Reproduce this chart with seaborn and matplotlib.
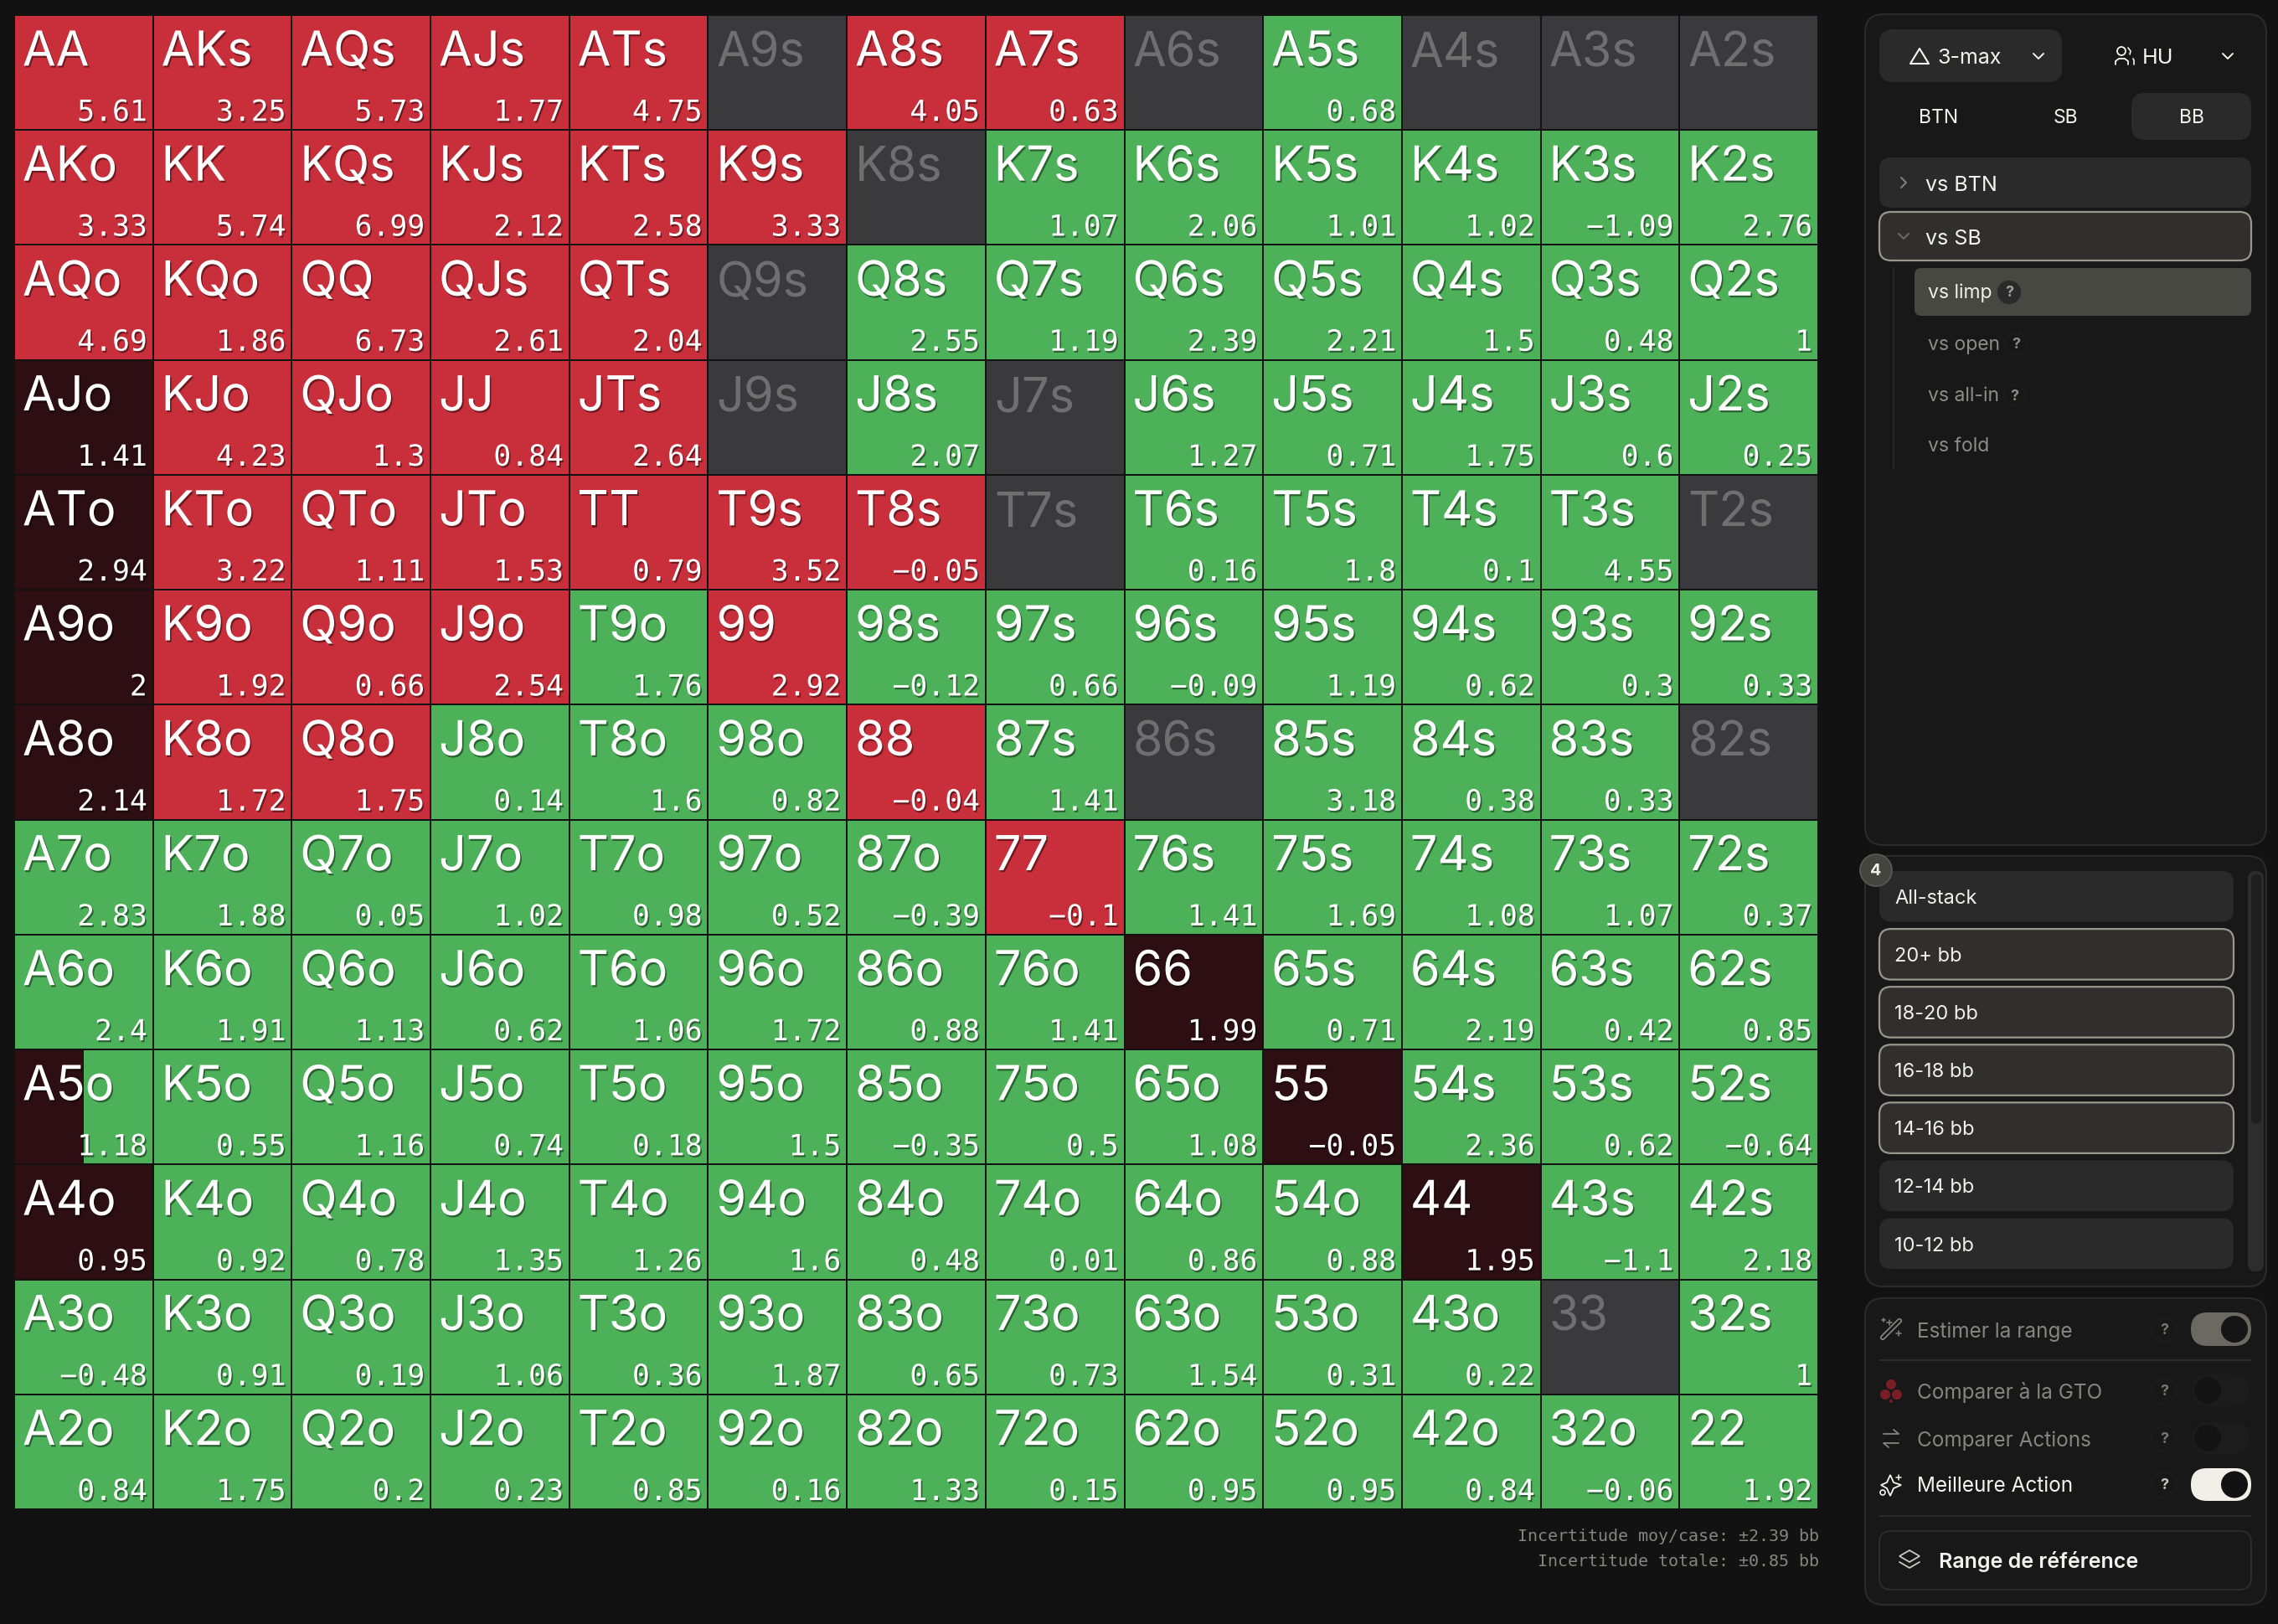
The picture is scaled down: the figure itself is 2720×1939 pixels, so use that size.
import numpy as np
import matplotlib
matplotlib.use('Agg')
import matplotlib.pyplot as plt
import matplotlib.patheffects as pe
from matplotlib.colors import ListedColormap
from matplotlib.patches import FancyBboxPatch, Rectangle, Circle, Polygon
import seaborn as sns

# hand grid
hands = [
    ['AA','AKs','AQs','AJs','ATs','A9s','A8s','A7s','A6s','A5s','A4s','A3s','A2s'],
    ['AKo','KK','KQs','KJs','KTs','K9s','K8s','K7s','K6s','K5s','K4s','K3s','K2s'],
    ['AQo','KQo','QQ','QJs','QTs','Q9s','Q8s','Q7s','Q6s','Q5s','Q4s','Q3s','Q2s'],
    ['AJo','KJo','QJo','JJ','JTs','J9s','J8s','J7s','J6s','J5s','J4s','J3s','J2s'],
    ['ATo','KTo','QTo','JTo','TT','T9s','T8s','T7s','T6s','T5s','T4s','T3s','T2s'],
    ['A9o','K9o','Q9o','J9o','T9o','99','98s','97s','96s','95s','94s','93s','92s'],
    ['A8o','K8o','Q8o','J8o','T8o','98o','88','87s','86s','85s','84s','83s','82s'],
    ['A7o','K7o','Q7o','J7o','T7o','97o','87o','77','76s','75s','74s','73s','72s'],
    ['A6o','K6o','Q6o','J6o','T6o','96o','86o','76o','66','65s','64s','63s','62s'],
    ['A5o','K5o','Q5o','J5o','T5o','95o','85o','75o','65o','55','54s','53s','52s'],
    ['A4o','K4o','Q4o','J4o','T4o','94o','84o','74o','64o','54o','44','43s','42s'],
    ['A3o','K3o','Q3o','J3o','T3o','93o','83o','73o','63o','53o','43o','33','32s'],
    ['A2o','K2o','Q2o','J2o','T2o','92o','82o','72o','62o','52o','42o','32o','22'],
]
# EV per hand, None = no data (grey cell)
ev = [
    [5.61,3.25,5.73,1.77,4.75,None,4.05,0.63,None,0.68,None,None,None],
    [3.33,5.74,6.99,2.12,2.58,3.33,None,1.07,2.06,1.01,1.02,-1.09,2.76],
    [4.69,1.86,6.73,2.61,2.04,None,2.55,1.19,2.39,2.21,1.5,0.48,1],
    [1.41,4.23,1.3,0.84,2.64,None,2.07,None,1.27,0.71,1.75,0.6,0.25],
    [2.94,3.22,1.11,1.53,0.79,3.52,-0.05,None,0.16,1.8,0.1,4.55,None],
    [2,1.92,0.66,2.54,1.76,2.92,-0.12,0.66,-0.09,1.19,0.62,0.3,0.33],
    [2.14,1.72,1.75,0.14,1.6,0.82,-0.04,1.41,None,3.18,0.38,0.33,None],
    [2.83,1.88,0.05,1.02,0.98,0.52,-0.39,-0.1,1.41,1.69,1.08,1.07,0.37],
    [2.4,1.91,1.13,0.62,1.06,1.72,0.88,1.41,1.99,0.71,2.19,0.42,0.85],
    [1.18,0.55,1.16,0.74,0.18,1.5,-0.35,0.5,1.08,-0.05,2.36,0.62,-0.64],
    [0.95,0.92,0.78,1.35,1.26,1.6,0.48,0.01,0.86,0.88,1.95,-1.1,2.18],
    [-0.48,0.91,0.19,1.06,0.36,1.87,0.65,0.73,1.54,0.31,0.22,None,1],
    [0.84,1.75,0.2,0.23,0.85,0.16,1.33,0.15,0.95,0.95,0.84,-0.06,1.92],
]
# best action: 0 grey, 1 red, 2 dark, 3 green
action = [
    [1,1,1,1,1,0,1,1,0,3,0,0,0],
    [1,1,1,1,1,1,0,3,3,3,3,3,3],
    [1,1,1,1,1,0,3,3,3,3,3,3,3],
    [2,1,1,1,1,0,3,0,3,3,3,3,3],
    [2,1,1,1,1,1,1,0,3,3,3,3,0],
    [2,1,1,1,3,1,3,3,3,3,3,3,3],
    [2,1,1,3,3,3,1,3,0,3,3,3,0],
    [3,3,3,3,3,3,3,1,3,3,3,3,3],
    [3,3,3,3,3,3,3,3,2,3,3,3,3],
    [3,3,3,3,3,3,3,3,3,2,3,3,3],
    [2,3,3,3,3,3,3,3,3,3,2,3,3],
    [3,3,3,3,3,3,3,3,3,3,3,0,3],
    [3,3,3,3,3,3,3,3,3,3,3,3,3],
]
mixed_hand = 'A5o'
mixed_share = 0.5

action_colors = ['#3a3a3d', '#c92e3b', '#2d0e12', '#4db15a']
bg = '#121212'
panel = '#181818'
line = '#2b2b2b'
btn = '#2a2a2a'
active = '#302f2d'
border = '#9a988c'
white = '#f4f4ef'
dim = '#8d8d86'

foot = ['Incertitude moy/case: \u00b12.39 bb', 'Incertitude totale: \u00b10.85 bb']
stacks = ['All-stack', '20+ bb', '18-20 bb', '16-18 bb', '14-16 bb', '12-14 bb', '10-12 bb']
stacks_on = [False, True, True, True, True, False, False]
sub_actions = ['vs open', 'vs all-in', 'vs fold']
positions = ['BTN', 'SB', 'BB']
options = ['Estimer la range', 'Comparer \u00e0 la GTO', 'Comparer Actions', 'Meilleure Action']

sns.set_theme(style='dark')
plt.rcParams['font.family'] = ['DejaVu Sans']
W, H = 2720, 1940
fig = plt.figure(figsize=(W/100, H/100), dpi=100, facecolor=bg)

# grid
ax = fig.add_axes([17/W, 1-1803/H, 2154/W, 1784/H])
codes = np.array(action)
sns.heatmap(codes, ax=ax, cmap=ListedColormap(action_colors), vmin=-0.5, vmax=3.5, cbar=False,
            linewidths=1.44, linecolor=bg, xticklabels=False, yticklabels=False)
ax.set_xlabel('')
ax.set_ylabel('')

shadow = [pe.withSimplePatchShadow(offset=(1.2, -1.6), alpha=0.45, shadow_rgbFace='black')]
gap_x, gap_y = 1/165.7, 1/137.2
hand_font = 'Inter'
hand_size = 41.5
for r in range(13):
    for c in range(13):
        name = hands[r][c]
        if name == mixed_hand:
            ax.add_patch(Rectangle((c+gap_x, r+gap_y), mixed_share-gap_x, 1-2*gap_y, color=action_colors[2], lw=0, zorder=2))
        v = ev[r][c]
        if v is None:
            ax.text(c+0.06, r+0.44, name, fontsize=hand_size, family=hand_font, color='#6f6f70', va='baseline', ha='left', zorder=3)
            continue
        ax.text(c+0.06, r+0.44, name, fontsize=hand_size, family=hand_font, color='white', va='baseline', ha='left', zorder=3, path_effects=shadow)
        txt = f'{v:g}'.replace('-', '\u2212')
        ax.text(c+0.958, r+0.92, txt, fontsize=25, color='white', family='DejaVu Sans Mono', va='baseline', ha='right', zorder=3, path_effects=shadow)

# page overlay in pixel coordinates
ui = fig.add_axes([0, 0, 1, 1], facecolor='none')
ui.set_xlim(0, W)
ui.set_ylim(H, 0)
ui.axis('off')


def box(x0, y0, x1, y1, fc, ec='none', lw=0, r=14, z=1):
    ui.add_patch(FancyBboxPatch((x0+r, y0+r), x1-x0-2*r, y1-y0-2*r, boxstyle=f'round,pad={r},rounding_size={r}',
                                fc=fc, ec=ec, lw=lw, zorder=z))


def label(x, y, s, color=white, size=17, weight='normal', ha='left'):
    ui.text(x, y+2, s, color=color, fontsize=size, family='Inter', weight=weight, ha=ha, va='center', zorder=5)


def chevron(x, y, color=white, down=True, s=6):
    if down:
        ui.plot([x-s, x, x+s], [y-s/2, y+s/2, y-s/2], color=color, lw=1.4, zorder=5)
    else:
        ui.plot([x-s/2, x+s/2, x-s/2], [y-s, y, y+s], color=color, lw=1.4, zorder=5)


def question(x, y, fc='none', ec='#2a2a2a', color='#8d8d86', r=14):
    ui.add_patch(Circle((x, y), r, fc=fc, ec=ec, lw=0.8, ls=':', zorder=4))
    ui.text(x, y, '?', color=color, fontsize=13, family='Inter', weight='bold', ha='center', va='center', zorder=5)


for i, s in enumerate(foot):
    ui.text(2172, 1835 + i*30, s, color='#85857f', fontsize=14.4, family='DejaVu Sans Mono', ha='right', va='center')

# top panel
box(2227, 18, 2706, 1010, panel, line, 1.5, r=22)
box(2244, 36, 2462, 99, btn, r=16)
ui.add_patch(Polygon([(2281, 77), (2292, 59), (2303, 77)], closed=True, fc='none', ec=white, lw=1.5, joinstyle='round', zorder=5))
label(2313, 67, '3-max', size=18)
chevron(2434, 68)
ui.add_patch(Circle((2533, 62), 5, fc='none', ec=white, lw=1.3, zorder=5))
ui.plot([2526, 2526, 2530, 2537, 2541, 2541], [78, 74, 71, 71, 74, 78], color=white, lw=1.3, zorder=5)
ui.plot([2541, 2544, 2543], [58, 62, 66], color=white, lw=1.2, zorder=5)
ui.plot([2547, 2548, 2548], [71, 73, 78], color=white, lw=1.2, zorder=5)
label(2558, 67, 'HU', size=18)
chevron(2660, 68)
box(2545, 112, 2688, 168, btn, r=16)
for x, s in zip([2315, 2466, 2617], positions):
    label(x, 139, s, size=16.5, ha='center')

box(2244, 189, 2688, 249, btn, r=14)
chevron(2273, 219, '#85857f', down=False)
label(2299, 219, 'vs BTN', size=18)
box(2244, 254, 2688, 312, active, border, 1.6, r=14)
chevron(2273, 283, '#6f6f6a')
label(2299, 283, 'vs SB', size=18)
ui.plot([2261, 2261], [321, 561], color='#2a2a2a', lw=1.2, zorder=2)
box(2286, 321, 2688, 378, '#484843', r=8)
label(2302, 348, 'vs limp', size=16.5, color='#f0f0ea')
question(2399, 350, fc='#2a2a2a', ec='#2a2a2a', color='#a0a09a')
for s, y, qx in zip(sub_actions, [411, 472, 532], [2407, 2405, None]):
    label(2302, y-1, s, size=16.5, color=dim)
    if qx:
        question(qx, y+1, r=13)

# stack panel
box(2227, 1023, 2706, 1537, panel, line, 1.5, r=22)
for i, (s, on) in enumerate(zip(stacks, stacks_on)):
    y0 = 1041 + i*69.1
    box(2244, y0, 2667, y0+60.5, active if on else btn, border if on else 'none', 1.6 if on else 0, r=14)
    label(2262, y0+30, s, size=17, color='#f0f0ea')
box(2684, 1041, 2703, 1519, '#2d2d2d', r=9)
box(2688, 1045, 2700, 1343, '#1f1f1f', r=6, z=2)
ui.add_patch(Circle((2240, 1040), 19, fc='#45453f', ec='#5c5c55', lw=1.2, zorder=6))
ui.text(2240, 1040, '4', color='#f0f0ea', fontsize=14, family='Inter', weight='bold', ha='center', va='center', zorder=7)

# options panel
box(2227, 1551, 2706, 1917, panel, line, 1.5, r=22)
opt_y = [1588, 1661, 1718, 1773]
opt_col = ['#85857f', '#85857f', '#85857f', white]
for s, y, col in zip(options, opt_y, opt_col):
    label(2289, y, s, size=17.5, color=col)
    question(2584, y+1, r=15, color=('#c8c8c2' if col == white else '#777771'))
for y in [1625, 1811]:
    ui.plot([2244, 2688], [y, y], color=line, lw=1.5, zorder=2)

# toggles
box(2616, 1568, 2688, 1608, '#6a6a63', r=20)
ui.add_patch(Circle((2668, 1588), 16, fc='#151515', lw=0, zorder=3))
for y in opt_y[1:3]:
    box(2618, y-19, 2686, y+19, '#1c1c1c', r=19)
    ui.add_patch(Circle((2636, y), 16, fc='#141414', lw=0, zorder=3))
box(2616, 1754, 2688, 1793, '#f0f0e9', r=19)
ui.add_patch(Circle((2668, 1773.5), 16, fc='#121212', lw=0, zorder=3))

# option icons
ui.plot([2248, 2268], [1598, 1578], color='#85857f', lw=4.5, solid_capstyle='round', zorder=5)
ui.plot([2248, 2268], [1598, 1578], color=panel, lw=2, solid_capstyle='round', zorder=6)
for x, y, s in [(2256, 1580, 3), (2267, 1593, 3), (2249, 1577, 2)]:
    ui.plot([x-s, x+s], [y, y], color='#85857f', lw=1.1, zorder=5)
    ui.plot([x, x], [y-s, y+s], color='#85857f', lw=1.1, zorder=5)
for x, y in [(2258, 1654), (2251, 1666), (2265, 1666)]:
    ui.add_patch(Circle((x, y), 6, fc='#7a1e26', lw=0, zorder=5))
ui.add_patch(Circle((2258, 1674), 2, fc='#7a1e26', lw=0, zorder=5))
ui.plot([2249, 2267, 2261], [1713, 1713, 1708], color='#85857f', lw=1.3, zorder=5)
ui.plot([2267, 2249, 2255], [1724, 1724, 1729], color='#85857f', lw=1.3, zorder=5)
star = [(2257, 1762), (2261, 1771), (2270, 1774), (2261, 1778), (2257, 1787), (2253, 1778), (2246, 1774), (2253, 1771)]
ui.add_patch(Polygon(star, closed=True, fc='none', ec=white, lw=1.3, zorder=5))
ui.add_patch(Circle((2248, 1783), 3, fc='none', ec=white, lw=1.2, zorder=5))
ui.plot([2264, 2270], [1765, 1765], color=white, lw=1.1, zorder=5)
ui.plot([2267, 2267], [1762, 1768], color=white, lw=1.1, zorder=5)

box(2244, 1829, 2688, 1899, panel, line, 1.5, r=14)
ui.add_patch(Polygon([(2280, 1852), (2292, 1859), (2280, 1866), (2268, 1859)], closed=True, fc='none', ec='#c8c8c2', lw=1.3, zorder=5))
ui.plot([2268, 2280, 2292], [1866, 1873, 1866], color='#c8c8c2', lw=1.3, zorder=5)
label(2315, 1863, 'Range de r\u00e9f\u00e9rence', size=18, weight='semibold')

fig.savefig('out.png', dpi=100, facecolor=bg)
